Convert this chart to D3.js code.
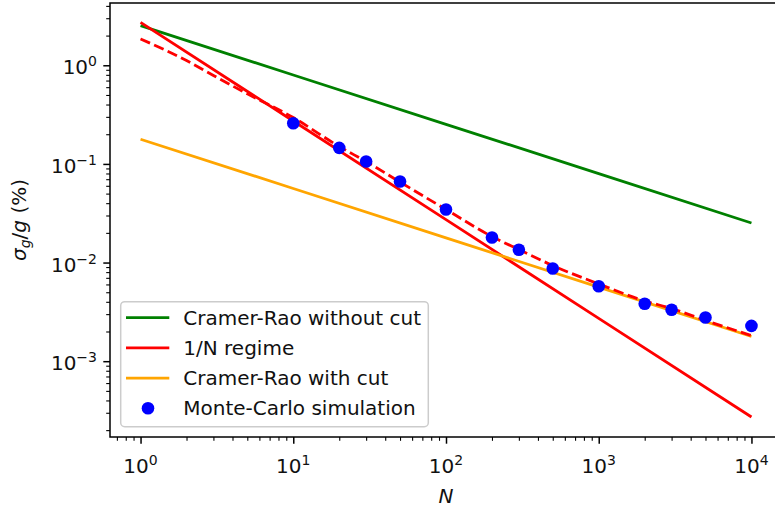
<!DOCTYPE html>
<html>
<head>
<meta charset="utf-8">
<script src="https://cdn.jsdelivr.net/npm/d3@7"></script>
<style>
  html, body { margin: 0; padding: 0; background: #fff; }
  svg { display: block; font-family: "DejaVu Sans", sans-serif; }
</style>
</head>
<body>
<svg id="chart" width="775" height="514"></svg>
<script>
// ---- data ----
const lineN = [1, 10, 100, 1000, 10000];
const crWithoutCut = [2.52, 0.797, 0.252, 0.0797, 0.0252];
const invNRegime = [2.72, 0.272, 0.0272, 0.00272, 0.000272];
const crWithCut = [0.178, 0.0563, 0.0178, 0.00563, 0.00178];

const fitN = [1, 2, 3, 5, 10, 20, 30, 50, 100, 200, 300, 500, 1000, 2000, 3000, 5000, 10000];
const fitValues = [1.852, 1.116, 0.788, 0.513, 0.295, 0.150, 0.1057, 0.0655, 0.0345, 0.01836,
                   0.01355, 0.00933, 0.00606, 0.00408, 0.00342, 0.00259, 0.00182];

const mcN = [10, 20, 30, 50, 100, 200, 300, 500, 1000, 2000, 3000, 5000, 10000];
const mcValues = [0.2584, 0.1455, 0.1057, 0.0663, 0.0345, 0.01794, 0.01346, 0.0087,
                  0.00576, 0.00382, 0.00332, 0.00277, 0.00228];

const xMajorExp = [0, 1, 2, 3, 4];
const yMajorExp = [-3, -2, -1, 0];
const legendLabels = ["Cramer-Rao without cut", "1/N regime", "Cramer-Rao with cut", "Monte-Carlo simulation"];

// ---- layout ----
const pL = 110, pR = 782, pT = 3, pB = 437;
const svg = d3.select("#chart");
const x = d3.scaleLog().domain([Math.pow(10, -0.2), Math.pow(10, 4.2)]).range([pL, pR]);
const y = d3.scaleLog().domain([Math.pow(10, -3.7686), Math.pow(10, 0.6314)]).range([pB, pT]);

const FS = 20;
const lw = 2.8;
const TXT = "#111";

svg.append("defs").append("clipPath").attr("id", "clip")
  .append("rect").attr("x", pL).attr("y", pT).attr("width", pR - pL).attr("height", pB - pT);

const plot = svg.append("g").attr("clip-path", "url(#clip)");
const line = d3.line().x(d => x(d[0])).y(d => y(d[1]));
const smooth = d3.line().x(d => x(d[0])).y(d => y(d[1])).curve(d3.curveMonotoneX);

plot.append("path").datum(d3.zip(lineN, crWithoutCut)).attr("d", line)
  .attr("fill", "none").attr("stroke", "green").attr("stroke-width", lw);
plot.append("path").datum(d3.zip(lineN, invNRegime)).attr("d", line)
  .attr("fill", "none").attr("stroke", "red").attr("stroke-width", lw);
plot.append("path").datum(d3.zip(lineN, crWithCut)).attr("d", line)
  .attr("fill", "none").attr("stroke", "orange").attr("stroke-width", lw);
plot.append("path").datum(d3.zip(fitN, fitValues)).attr("d", smooth)
  .attr("fill", "none").attr("stroke", "red").attr("stroke-width", lw)
  .attr("stroke-dasharray", "10.4,4.5");

plot.selectAll("circle.mc").data(d3.zip(mcN, mcValues)).enter().append("circle")
  .attr("class", "mc")
  .attr("cx", d => x(d[0])).attr("cy", d => y(d[1])).attr("r", 6.3)
  .attr("fill", "blue");

// ---- axes ----
const xMajor = xMajorExp.map(e => Math.pow(10, e));
const yMajor = yMajorExp.map(e => Math.pow(10, e));
function minors(scale) {
  const [a, b] = scale.domain();
  const out = [];
  for (let e = Math.floor(Math.log10(a)); e <= Math.ceil(Math.log10(b)); e++) {
    for (let k = 2; k <= 9; k++) {
      const v = k * Math.pow(10, e);
      if (v >= a && v <= b) out.push(v);
    }
  }
  return out;
}
function styleAxis(w) {
  return g => {
    g.select(".domain").remove();
    g.selectAll(".tick line").attr("stroke", "#000").attr("stroke-width", w);
  };
}

svg.append("g").attr("transform", `translate(0,${pB})`)
  .call(d3.axisBottom(x).tickValues(xMajor).tickSize(6.7).tickFormat(""))
  .call(styleAxis(1.5));
svg.append("g").attr("transform", `translate(0,${pB})`)
  .call(d3.axisBottom(x).tickValues(minors(x)).tickSize(3.8).tickFormat(""))
  .call(styleAxis(1.1));
svg.append("g").attr("transform", `translate(${pL},0)`)
  .call(d3.axisLeft(y).tickValues(yMajor).tickSize(6.7).tickFormat(""))
  .call(styleAxis(1.5));
svg.append("g").attr("transform", `translate(${pL},0)`)
  .call(d3.axisLeft(y).tickValues(minors(y)).tickSize(3.8).tickFormat(""))
  .call(styleAxis(1.1));

svg.append("rect").attr("x", pL).attr("y", pT).attr("width", pR - pL).attr("height", pB - pT)
  .attr("fill", "none").attr("stroke", "#000").attr("stroke-width", 1.5);

function expText(e) { return (e < 0 ? "\u2212" : "") + Math.abs(e); }

xMajorExp.forEach(e => {
  const t = svg.append("text").attr("x", x(Math.pow(10, e))).attr("y", 473)
    .attr("text-anchor", "middle").attr("font-size", FS).attr("fill", TXT);
  t.append("tspan").text("10");
  t.append("tspan").attr("font-size", FS * 0.7).attr("dy", -8).text(expText(e));
});
yMajorExp.forEach(e => {
  const t = svg.append("text").attr("x", 97).attr("y", y(Math.pow(10, e)) + 9)
    .attr("text-anchor", "end").attr("font-size", FS).attr("fill", TXT);
  t.append("tspan").text("10");
  t.append("tspan").attr("font-size", FS * 0.7).attr("dy", -8).text(expText(e));
});

svg.append("text").attr("x", (pL + pR) / 2).attr("y", 503)
  .attr("text-anchor", "middle").attr("font-size", FS).attr("font-style", "italic")
  .attr("fill", TXT).text("N");

const yl = svg.append("text").attr("transform", `translate(26,${(pT + pB) / 2}) rotate(-90)`)
  .attr("text-anchor", "middle").attr("font-size", FS).attr("fill", TXT);
yl.append("tspan").attr("font-style", "italic").text("\u03c3");
yl.append("tspan").attr("font-style", "italic").attr("font-size", FS * 0.7).attr("dy", 4).text("g");
yl.append("tspan").attr("dy", -4).text("/");
yl.append("tspan").attr("font-style", "italic").text("g");
yl.append("tspan").text(" (%)");

// ---- legend ----
const lg = svg.append("g");
lg.append("rect").attr("x", 120.7).attr("y", 301.7).attr("width", 307.6).attr("height", 125)
  .attr("rx", 4).attr("fill", "#fff").attr("fill-opacity", 0.8)
  .attr("stroke", "#cccccc").attr("stroke-width", 1.5);
const legendColors = ["green", "red", "orange", "blue"];
legendLabels.forEach((lab, i) => {
  const yy = 317.7 + i * 30.2;
  if (i < 3) {
    lg.append("line").attr("x1", 126).attr("x2", 169.3).attr("y1", yy).attr("y2", yy)
      .attr("stroke", legendColors[i]).attr("stroke-width", lw);
  } else {
    lg.append("circle").attr("cx", 148).attr("cy", yy).attr("r", 6.3).attr("fill", "blue");
  }
  lg.append("text").attr("x", 183.3).attr("y", yy + 7).attr("font-size", FS)
    .attr("fill", TXT).text(lab);
});
</script>
</body>
</html>
